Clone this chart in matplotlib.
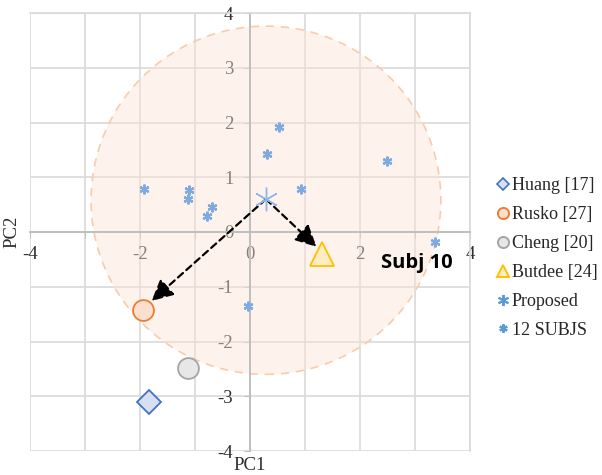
import matplotlib
matplotlib.use("Agg")
import matplotlib.pyplot as plt
from matplotlib.lines import Line2D
from matplotlib.patches import Circle
from matplotlib.ticker import FuncFormatter

# ---- data ----
subj_x = [-1.93, -1.11, -1.13, -0.69, -0.79, 0.30, 0.52, 0.93, 2.49, 3.36, -0.03]
subj_y = [0.78, 0.77, 0.60, 0.45, 0.29, 1.43, 1.91, 0.79, 1.29, -0.18, -1.35]
proposed = (0.29, 0.60)
huang = (-1.83, -3.10)
rusko = (-1.94, -1.43)
cheng = (-1.13, -2.49)
butdee = (1.31, -0.40)
arrow_tips = [(-1.79, -1.26), (1.21, -0.27)]
circle_center = (0.29, 0.58)
circle_radius = 3.18
legend_labels = ["Huang [17]", "Rusko [27]", "Cheng [20]", "Butdee [24]", "Proposed", "12 SUBJS"]
x_ticks = [-4, -3, -2, -1, 0, 1, 2, 3, 4]
y_ticks = [-4, -3, -2, -1, 0, 1, 2, 3, 4]

serif = "Liberation Serif"
blue = "#5B9BD5"
subj_blue = "#7FAADF"
asterisk = (6, 2, 0)

fig = plt.figure(figsize=(6.02, 4.75), dpi=100)
ax = fig.add_axes([30 / 602, 24 / 475, 440 / 602, 438 / 475])
ax.set_xlim(-4, 4)
ax.set_ylim(-4, 4)

ax.set_xticks(x_ticks)
ax.set_yticks(y_ticks)
ax.grid(True, color="#D9D9D9", lw=1.2, zorder=0)
ax.set_axisbelow(True)

for s in ["left", "bottom"]:
    ax.spines[s].set_position(("data", 0))
    ax.spines[s].set_color("#BFBFBF")
    ax.spines[s].set_linewidth(1.4)
for s in ["top", "right"]:
    ax.spines[s].set_color("#D9D9D9")
    ax.spines[s].set_linewidth(1.2)

ax.xaxis.set_major_formatter(FuncFormatter(lambda v, p: f"{int(v)}" if int(round(v)) % 2 == 0 else ""))
ax.yaxis.set_major_formatter(FuncFormatter(lambda v, p: f"{int(v)}"))
ax.tick_params(axis="both", length=4, color="#BFBFBF", labelsize=13.5, labelcolor="#2E2E2E", pad=6)
ax.tick_params(axis="y", pad=8)
for lab in ax.get_xticklabels() + ax.get_yticklabels():
    lab.set_fontfamily(serif)

# circle
ax.add_patch(Circle(circle_center, circle_radius, facecolor="#FBE5D6", alpha=0.45,
                    edgecolor="none", zorder=1))
ax.add_patch(Circle(circle_center, circle_radius, facecolor="none",
                    edgecolor="#F8CBAD", lw=1.2, ls=(0, (5, 4)), zorder=1.5))

# subjects
ax.plot(subj_x, subj_y, ls="none", marker=asterisk, ms=7, mew=1.6, color=subj_blue, zorder=4)
ax.plot([proposed[0]], [proposed[1]], ls="none", marker=asterisk, ms=17, mew=1.0, color="#8DB8E6", zorder=4)

# arrows
for tip in arrow_tips:
    ax.annotate("", xy=tip, xytext=proposed,
                arrowprops=dict(arrowstyle="-|>,head_length=1.3,head_width=0.65", color="black",
                                lw=1.6, ls=(0, (3, 2)), shrinkA=0, shrinkB=0), zorder=3)

# methods
ax.plot([huang[0]], [huang[1]], ls="none", marker="D", ms=12, mfc="#D6E0F2", mec="#4472C4", mew=1.3, zorder=5)
ax.plot([rusko[0]], [rusko[1]], ls="none", marker="o", ms=15, mfc="#FBE0D0", mec="#ED7D31", mew=1.3, zorder=5)
ax.plot([cheng[0]], [cheng[1]], ls="none", marker="o", ms=15, mfc="#E7E7E7", mec="#A5A5A5", mew=1.3, zorder=5)
ax.plot([butdee[0]], [butdee[1]], ls="none", marker="^", ms=17, mfc="#FFEDC4", mec="#FFC000", mew=1.3, zorder=5)

ax.text(2.38, -0.57, "Subj 10", fontfamily="Open Sans", fontweight="bold", fontsize=14.5,
        ha="left", va="center", color="black", zorder=6)

fig.text(12 / 602, 1 - 232 / 475, "PC2", rotation=90, ha="center", va="center",
         fontfamily=serif, fontsize=13.5, color="#2E2E2E")
fig.text(250 / 602, 1 - 465 / 475, "PC1", ha="center", va="center",
         fontfamily=serif, fontsize=13.5, color="#2E2E2E")

handles = [
    Line2D([], [], ls="none", marker="D", ms=6, mfc="#D6E0F2", mec="#4472C4", mew=1.2),
    Line2D([], [], ls="none", marker="o", ms=8, mfc="#FBE0D0", mec="#ED7D31", mew=1.4),
    Line2D([], [], ls="none", marker="o", ms=8, mfc="#E7E7E7", mec="#A5A5A5", mew=1.4),
    Line2D([], [], ls="none", marker="^", ms=8, mfc="#FFEDC4", mec="#FFC000", mew=1.4),
    Line2D([], [], ls="none", marker=asterisk, ms=8, mew=1.4, color=blue),
    Line2D([], [], ls="none", marker=asterisk, ms=6, mew=1.6, color=blue),
]
leg = fig.legend(handles, legend_labels, loc="upper left", bbox_to_anchor=(490 / 602, 1 - 170 / 475),
                 frameon=False, handlelength=0.6, handletextpad=0.2, labelspacing=0.66,
                 prop={"family": serif, "size": 13}, borderaxespad=0)
for t in leg.get_texts():
    t.set_color("#262626")

fig.savefig("out.png", dpi=100)
